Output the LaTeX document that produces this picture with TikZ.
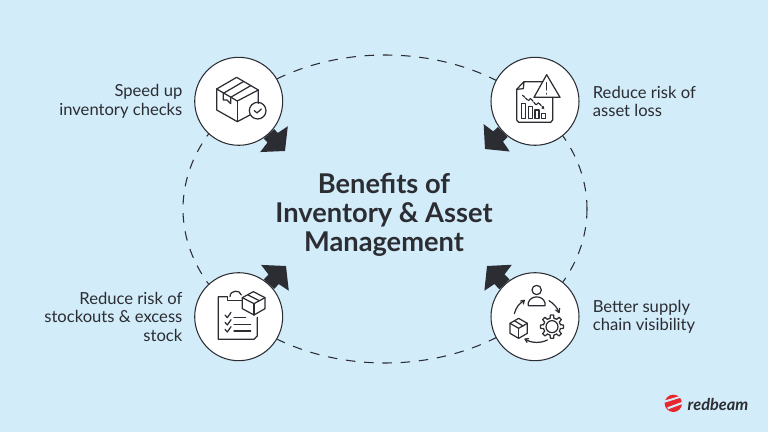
\documentclass[tikz,border=0pt]{standalone}
\usepackage{fontspec}
\setmainfont{Lato}
\usetikzlibrary{arrows.meta}
\usetikzlibrary{positioning}
\definecolor{mback}{HTML}{D2ECFA}
\definecolor{mdark}{HTML}{2B2D33}
\definecolor{mred}{HTML}{E8262D}
\tikzset{
  benefit/.style = {circle, draw = mdark, fill = white, line width = 0.6pt, inner sep = 0, minimum size = 1.76cm},
  caption/.style = {text = mdark, font = \fontsize{9.45}{10.4}\selectfont, inner sep = 0},
  bigarrow/.style = {mdark, line width = 8pt, -{Kite[length = 11pt, width = 21.5pt, inset = 1.8pt]}},
  crop/.style 2 args = {shift = {(#1, #2)}, x = 0.00667cm, y = -0.00667cm},
  icon/.style = {mdark, line width = 0.7pt, line cap = round, line join = round}
}
\begin{document}
\begin{tikzpicture}[x = 0.02cm, y = -0.02cm]
  \useasboundingbox (0, 0) rectangle (768, 432);
  \fill [mback] (0, 0) rectangle (768, 432);
  \draw [mdark, line width = 0.6pt, dash pattern = on 5.4pt off 5pt] (385, 209) ellipse [x radius = 202, y radius = 154];
  \node [benefit] (checks) at (238.7, 101.3) {};
  \node [benefit] (loss) at (535, 101.3) {};
  \node [benefit] (stockouts) at (238.7, 316.7) {};
  \node [benefit] (chain) at (535, 316.7) {};
  \coordinate (checkstip) at (285, 151);
  \coordinate (losstip) at (485, 149);
  \coordinate (stockoutstip) at (286, 266);
  \coordinate (chaintip) at (487, 266);
  \draw [bigarrow] (checks) -- (checkstip);
  \draw [bigarrow] (loss) -- (losstip);
  \draw [bigarrow] (stockouts) -- (stockoutstip);
  \draw [bigarrow] (chain) -- (chaintip);
  \node [text = mdark, font = \fontsize{15.5}{16.5}\selectfont\bfseries, align = center] (title) at (384, 215) {Benefits of\\Inventory \& Asset\\Management};
  \node [caption, align = right, left = 0.23cm of checks] (checkstext) {Speed up\\inventory checks};
  \node [caption, align = left, right = 0.26cm of loss] (losstext) {Reduce risk of\\asset loss};
  \node [caption, align = right, left = 0.23cm of stockouts] (stockoutstext) {Reduce risk of\\stockouts \& excess\\stock};
  \node [caption, align = left, right = 0.26cm of chain] (chaintext) {Better supply\\chain visibility};
  % parcel with a tick
  \begin{scope}[crop = {180}{40}, icon]
    \draw (210, 225) -- (172, 245) -- (110, 210) -- (110, 147) -- (170, 112) -- (235, 150) -- (235, 190);
    \draw (110, 147) -- (172, 183) -- (235, 150);
    \draw (172, 183) -- (172, 245);
    \draw (130, 160) -- (190, 125);
    \draw (152, 172) -- (212, 137);
    \draw (130, 160) -- (130, 180) -- (141, 180) -- (152, 191) -- (152, 172);
    \draw (233, 212) circle [radius = 25];
    \draw (223, 212) -- (231, 219) -- (244, 207);
  \end{scope}
  % report with a warning sign
  \begin{scope}[crop = {470}{40}, icon]
    \draw (218, 125) -- (162, 125) -- (140, 148) -- (140, 240) -- (146, 247) -- (242, 247) -- (248, 240) -- (248, 172);
    \draw (140, 148) -- (160, 146) -- (162, 125);
    \draw (230, 104) -- (192, 172) -- (270, 172) -- cycle;
    \draw (230, 128) -- (230, 150);
    \draw (230, 160) -- (230, 162);
    \draw [dash pattern = on 1.5pt off 0.8pt] (158, 166) -- (175, 182) -- (182, 175) -- (198, 195) -- (206, 188) -- (218, 202);
    \fill [mdark] (214, 205) -- (223, 208) -- (221, 198) -- cycle;
    \draw (155, 190) rectangle (167, 235);
    \draw (175, 200) rectangle (187, 235);
    \draw (195, 210) rectangle (207, 235);
    \draw (215, 220) rectangle (226, 235);
  \end{scope}
  % clipboard with a parcel
  \begin{scope}[crop = {180}{250}, icon]
    \draw (142, 140) -- (115, 140) -- (115, 268) -- (222, 268) -- (232, 258) -- (232, 202);
    \draw (142, 140) -- (142, 152) -- (186, 152);
    \draw (150, 140) .. controls (150, 120) and (180, 118) .. (184, 135);
    \draw (220, 125) -- (187, 143) -- (187, 176) -- (222, 195) -- (255, 176) -- (255, 143) -- cycle;
    \draw (187, 143) -- (222, 161) -- (255, 143);
    \draw (222, 161) -- (222, 195);
    \draw (204, 135) -- (238, 152);
    \draw (135, 195) -- (142, 203) -- (153, 187);
    \draw (135, 217) -- (142, 225) -- (153, 209);
    \draw (135, 238) -- (142, 246) -- (153, 230);
    \draw (162, 203) -- (197, 203);
    \draw (162, 223) -- (212, 223);
    \draw (162, 243) -- (212, 243);
  \end{scope}
  % person, parcel and gear in a cycle
  \begin{scope}[crop = {470}{250}, icon]
    \draw (200, 120) circle [radius = 14];
    \draw (175, 167) -- (175, 158) .. controls (182, 135) and (218, 135) .. (225, 158) -- (225, 167) -- cycle;
    \draw (133, 191) .. controls (138, 172) and (148, 160) .. (162, 152);
    \draw (152, 153) -- (163, 151) -- (160, 162);
    \draw (237, 152) .. controls (250, 160) and (262, 172) .. (267, 187);
    \draw (257, 180) -- (267, 188) -- (269, 175);
    \draw (232, 270) .. controls (212, 280) and (185, 280) .. (166, 268);
    \draw (176, 266) -- (165, 267) -- (171, 277);
    \draw (146, 205) -- (120, 220) -- (120, 250) -- (146, 265) -- (172, 250) -- (172, 220) -- cycle;
    \draw (120, 220) -- (146, 235) -- (172, 220);
    \draw (146, 235) -- (146, 265);
    \draw (133, 212) -- (159, 228);
    \begin{scope}[shift = {(246, 230)}]
      \draw (0, 0) circle [radius = 18];
      \foreach \a in {0, 45, ..., 315} {
        \draw (\a + 13:26) -- (\a + 8:35) -- (\a - 8:35) -- (\a - 13:26);
        \draw (\a + 13:26) -- (\a + 32:26);
      }
    \end{scope}
  \end{scope}
  % logo
  \begin{scope}[crop = {650}{380}]
    \fill [mred] (70, 70) circle [radius = 26];
    \fill [mback] (42, 62) -- (90, 48) -- (92, 53) -- (44, 68) -- cycle;
    \fill [mback] (52, 82) -- (98, 65) -- (100, 71) -- (54, 88) -- cycle;
    \node [text = mdark, font = \fontsize{9.3}{11}\selectfont\bfseries\itshape, anchor = west, inner sep = 0] (logo) at (112, 72) {redbeam};
  \end{scope}
\end{tikzpicture}
\end{document}
